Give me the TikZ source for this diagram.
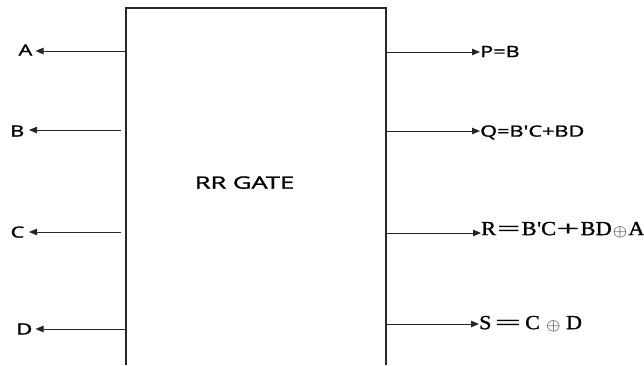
\documentclass[tikz,border=0pt]{standalone}
\usepackage{fontspec}
\setmainfont[FakeBold=1.2]{Liberation Serif}
\newfontfamily\labelsans[FakeBold=1.2]{Open Sans}
\usetikzlibrary{arrows.meta}
% horizontally stretched text
\newcommand\widen[2][1.4]{\scalebox{#1}[1]{#2}}
\newcommand\xorsign{\raisebox{-1bp}{\scalebox{1.15}{$\scriptstyle\oplus$}}}

\begin{document}
\begin{tikzpicture}[x=1bp,y=-1bp,
  wire/.style={draw=black!85, line width=1bp, -{Triangle[length=8bp,width=6.5bp]}},
  gatebox/.style={draw=black!85, line width=1.3bp},
  sanslabel/.style={inner sep=0pt, text depth=0pt, text=black,
    font=\labelsans\fontsize{15.5bp}{18bp}\selectfont},
  seriflabel/.style={inner sep=0pt, text depth=0pt, text=black,
    font=\fontsize{20bp}{23bp}\selectfont}
]
\useasboundingbox (0,0) rectangle (644,365);

% the gate body, open at the bottom
\draw[gatebox] (126,365) -- (126,8) -- (386,8) -- (386,365);
\node[sanslabel, font=\labelsans\fontsize{17bp}{20bp}\selectfont] (title) at (244.5,182.5) {\widen[1.5]{RR GATE}};

% lines leaving the left side
\coordinate (a0) at (126,51);
\coordinate (b0) at (121,130);
\coordinate (c0) at (121,232);
\coordinate (d0) at (126,329);
\node[sanslabel, anchor=east] (A) at (32.5,50) {\widen{A}};
\node[sanslabel, anchor=east] (B) at (24.5,131) {\widen{B}};
\node[sanslabel, anchor=east] (C) at (24.5,232) {\widen{C}};
\node[sanslabel, anchor=east] (D) at (32.5,329) {\widen{D}};
\draw[wire, shorten >=3bp] (a0) -- (A.east |- a0);
\draw[wire, shorten >=4.5bp] (b0) -- (B.east |- b0);
\draw[wire, shorten >=4.5bp] (c0) -- (C.east |- c0);
\draw[wire, shorten >=3bp] (d0) -- (D.east |- d0);

% lines leaving the right side
\coordinate (p0) at (386,52);
\coordinate (q0) at (386,131);
\coordinate (r0) at (386,233);
\coordinate (s0) at (386,324);
\node[sanslabel, anchor=west] (P) at (480,51.5) {\widen{P=B}};
\node[sanslabel, anchor=west] (Q) at (480,131) {\widen{Q=B\textquotesingle C+BD}};
\node[seriflabel, anchor=west] (R) at (481,228.5)
  {\widen[1.12]{R\kern1bp\widen[1.8]{=}\kern1.5bp B\kern0.5bp\textquotesingle C\kern0.5bp\widen[1.8]{+}\kern1bp BD\kern1bp\xorsign\kern1bp A}};
\node[seriflabel, anchor=west] (S) at (479,322.5)
  {\widen[1.1]{S\kern3bp\widen[2.1]{=}\kern4bp C\kern6bp\xorsign\kern5bp D}};
\draw[wire] (p0) -- (P.west |- p0);
\draw[wire] (q0) -- (Q.west |- q0);
\draw[wire] (r0) -- (R.west |- r0);
\draw[wire] (s0) -- (S.west |- s0);
\end{tikzpicture}
\end{document}
